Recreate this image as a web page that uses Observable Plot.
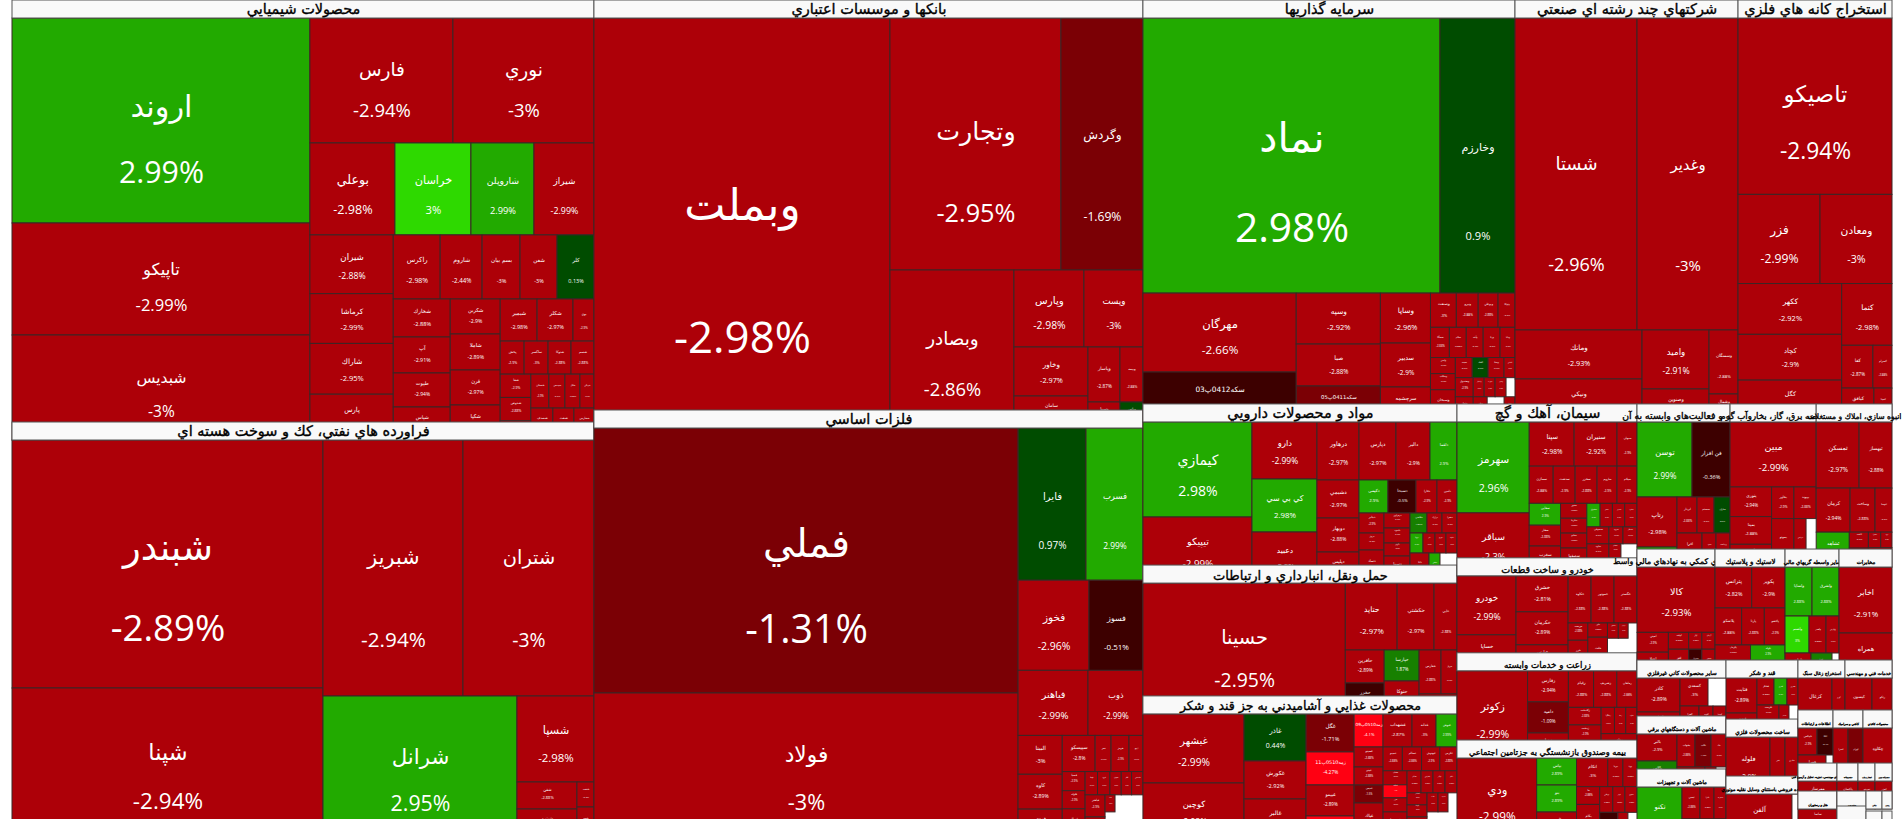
<!DOCTYPE html>
<html><head><meta charset="utf-8">
<style>html,body{margin:0;padding:0;background:#fff;overflow:hidden}</style>
<script src="https://cdn.jsdelivr.net/npm/d3@7"></script>
<script src="https://cdn.jsdelivr.net/npm/@observablehq/plot@0.6"></script>
</head><body><div id="chart"></div>
<script>
const chemNames=["اروند","تاپيكو","شبديس","فارس","نوري","بوعلي","خراسان","شاروپلن","شيراز","شيران","كرماشا","شاراك","پارس","راكرس","شاروم","بسم بيان","شفن","كلر","شخارك","آپ","طپوت","شپاس","شكربن","شاملا","قرن","شكپا","شيمير","شكلر","بوي","پخش","ساكسر","شتوكا","شسم","شفا","شدوص","شلعاب","شستان","شپديس","شگل","شرنگي","شصدف","شنفت","شفارس"];
const chemValues=[61090,33376,31290,17875,17625,7820,6992,5796,5520,4897,4150,4233,3818,3008,2688,2432,2368,2368,2166,2052,1938,1881,1750,1800,1750,1750,1554,1512,882,792,792,759,759,713,713,589,612,544,510,476,704,672,640];
const chemChanges=[2.99,-2.99,-3,-2.94,-3,-2.98,3,2.99,-2.99,-2.88,-2.99,-2.95,-2.9,-2.98,-2.44,-3,-3,0.13,-2.88,-2.91,-2.94,-2.9,-2.9,-2.89,-2.97,-2.9,-2.98,-2.97,-2.9,-2.9,-3,-2.88,-2.88,-2.9,-2.88,-2.9,-2.9,-2.9,-2.88,-2.9,-2.9,-2.9,-2.9];
const chemStrips=[3,2,4,4,5,4,4,3,4,3,4,1,1,1];

const oilNames=["شبندر","شپنا","شبريز","شتران","شرانل","شسپا","شفن","شپترو","شنفت","شجم"];
const oilValues=[77128,47272,35840,33536,27936,6622,1620,1860,425,561];
const oilChanges=[-2.89,-2.94,-2.94,-3,2.95,-2.98,-2.88,-2.9,-2.9,-2.9];
const oilStrips=[2,2,1,1,2,1,1];

const bankNames=["وبملت","وتجارت","وگردش","وبصادر","وپارس","وپست","وخاور","سامان","وپاسار","وبيمه","وسينا","وپاس"];
const bankValues=[121360,43092,20664,19592,5390,4543,3626,2368,1760,1265,832,598];
const bankChanges=[-2.98,-2.95,-1.69,-2.86,-2.98,-3,-2.97,-2.9,-2.87,-2.88,-2.9,0.9];
const bankStrips=[1,2,1,2,2,2,1,1];

const metalNames=["فملي","فولاد","فايرا","فسرب","فخوز","فسوز","فياهنر","ذوب","البينا","كاوه","فروي","سپيسكو","فجر","هرمز","ارفع","فسپا","فلوله","فنوال","فپنتا","فرود","فجهان","كگاز","فاسمين","فباهنر","فرآور","فاما","",""];
const metalValues=[112360,62328,10336,8664,6390,4860,4550,3575,1716,1540,1364,1188,576,648,504,437,414,713,288,288,264,240,264,440,460,170,476,1064];
const metalChanges=[-1.31,-3,0.97,2.99,-2.96,-0.51,-2.99,-2.99,-3,-2.89,-2.9,-2.8,-2.9,-2.9,-2.9,-2.9,-2.9,-2.9,-2.9,-2.9,-2.9,-2.9,-2.9,-2.9,-2.9,-2.9,null,null];
const metalStrips=[2,2,2,2,3,4,3,5,2,2,1];

const investNames=["نماد","وخارزم","مهرگان","سكه0412پ03","وسپه","صبا","سكه0411پ05","وساپا","سدبير","سرچشمه","وصنعت","ونيرو","وبوعلي","وتوكا","سمگا","سلام","وآيند","ورنا","ودانا","وامين","وسكاب","وسبحان","سپيد","الماد","وسنا","الماس","وصندوق","وثوق","واعتبار","سپرده","ومدير","","وملي","","وپويا"];
const investValues=[81675,20625,12087,7650,4284,3528,3024,2500,2200,1750,884,748,680,578,570,510,510,510,450,400,400,800,340,320,320,220,342,450,209,209,209,171,350,425,275];
const investChanges=[2.98,0.9,-2.66,-0.35,-2.92,-2.88,-1.5,-2.96,-2.9,-2.9,-3,-2.88,-2.88,-2.9,-2.88,-2.88,-2.9,-2.9,-2.9,-2.9,-2.9,-2.9,-2.9,0.9,-2.9,-2.9,-2.9,-2.9,-2.9,-2.9,-2.9,null,-2.9,null,-2.9];
const investStrips=[2,2,3,3,4,5,3,4,2,4,1,1,1];

const multiNames=["شستا","وغدير","ومانك","ونيكي","واميد","وصنوين","وسمنگان","وشمال"];
const multiValues=[38064,31512,6223,5461,3953,2211,1856,812];
const multiChanges=[-2.96,-3,-2.93,-2.9,-2.91,-2.88,-2.88,-2.9];
const multiStrips=[2,2,2,1,1];

const miningNames=["تاصيكو","فزر","ومعادن","ككهر","كچاد","كگل","كنما","كفا","كسرام","كبافق","كمينا"];
const miningValues=[27104,7298,6408,5253,4738,4326,3100,1333,817,1088,612];
const miningChanges=[-2.94,-2.99,-3,-2.92,-2.9,-2.9,-2.98,-2.87,-2.88,-2.9,-2.9];
const miningStrips=[1,2,3,1,2,1,1];

const pharmaNames=["كيمازي","تيپيكو","دارو","كي بي سي","دعبيد","درهاور","دپارس","دالبر","دلقما","دشيمي","دوبهار","ديليس","دكيمي","دسبحا","دفارا","دامين","دجابر","دروز","دتماد","دزهراوي","داسوه","دكوثر","دسينا","دقاضي","درازك","دشيرا","دپويا","دلر","دتوزيع","دماوند","دانا","دشافي",""];
const pharmaValues=[10355,7194,3705,3445,3315,2436,2146,1972,1566,1596,1428,1302,957,924,693,660,500,425,825,390,390,338,702,340,300,300,260,240,220,220,570,330,510];
const pharmaChanges=[2.98,-2.99,-2.99,2.98,-2.9,-2.97,-2.97,-2.9,2.9,-2.97,-2.88,-2.9,2.9,-0.5,-2.9,-2.9,-2.9,-2.9,-2.9,-2.9,-2.9,-2.9,-2.9,1.87,-2.9,-2.9,2.9,-2.9,-2.9,-2.9,-2.9,2.9,null];
const pharmaStrips=[2,3,4,3,4,3,4,3,4,1,2];

const transNames=["حسينا","حتايد","حكشتي","حاپي","حافرين","حخزر","حپارسا","حتوكا","حفارس","حريل","حآسا"];
const transValues=[26593,3484,2479,1541,1287,1209,1085,1155,968,704,760];
const transChanges=[-2.95,-2.97,-2.97,-2.88,-2.89,-0.4,1.87,-2.9,-2.88,-2.9,-2.9];
const transStrips=[1,3,2,2,2,1];

const foodNames=["غبشهر","كوچين","غاذر","غكورش","غالبر","غگل","زمه0510پ11","غبيمو","زمه0510پ12","زمه0510پ09","غشهداب","غدانه","غنوش","غصينو","غپينو","غديس","غپاك","غمينو","غسالم","غبهنوش","غگرجي","غشان","غمايه","غزر","غشصفا","غدام","غفارس","غپآذر","غالم","غشاذر","غويتا","غفار","غناب","غسهند","",""];
const foodValues=[6969,5757,2914,2356,2542,1824,1584,1488,1152,957,957,792,693,580,522,522,1073,456,456,432,408,336,312,336,672,308,264,264,264,240,240,460,209,190,171,840];
const foodChanges=[-2.99,-2.98,0.44,-2.92,-2.9,-1.71,-4.27,-2.89,-4.1,-4.1,-2.87,-3,2.99,-2.88,-2.88,-1.5,-2.9,-2.88,-2.88,-2.9,-2.88,-2.9,-4,-2.9,-2.9,-2.88,-2.88,-2.88,-2.88,-2.9,-2.9,-2.9,-2.9,-2.9,null,null];
const foodStrips=[2,3,4,4,4,4,4,4,3,3,1];

const cementNames=["سهرمز","سباقر","سپتا","سنيران","سبهان","سمازن","سدشت","سخزر","ساروم","سيلام","سقاين","سفار","سغرب","سخوز","سكرما","سفانو","سصفها","سشرق","سنير","سدور","سكرد","سصوفي","ساوه","سبجنو","سرود","سمتاز","سجام","",""];
const cementValues=[6552,4536,1980,1892,880,888,814,814,740,740,682,651,930,390,390,390,728,312,288,288,288,374,352,352,238,238,168,224,504];
const cementChanges=[2.96,-2.3,-2.98,-2.92,-2.9,-2.88,-2.9,-2.88,-2.9,-2.9,2.9,-2.88,-2.9,-2.88,-2.88,-2.88,-2.88,2.9,-2.9,-2.9,-2.9,-2.9,-2.9,-2.9,-2.9,-2.9,-2.9,null,null];
const cementStrips=[2,3,5,3,4,4,3,2,2,1];

const autoNames=["خودرو","خساپا","خشرق","خكرمان","خپارس","خكاوه","خموتور","خگستر","خريخت","خزر","خاور","خلنت","خمحور","خبهمن","",""];
const autoValues=[3481,2124,1872,1716,1352,1081,1081,1081,340,600,280,660,165,150,135,960];
const autoChanges=[-2.99,-2.9,-2.81,-2.89,-2.9,-2.88,-2.88,-2.88,-2.88,-2.9,-2.88,-2.9,-2.9,-2.9,null,null];
const autoStrips=[2,3,3,2,2,3,1];

const agriNames=["زكوثر","زفارس","داميه","زپسا","زقيام","زشريف","زماهان","زگلدشت","زدشت","زملارد","زشگزا","زبينا","ساوه","زدام"];
const agriValues=[6177,1271,1271,1025,925,851,740,576,608,480,351,297,297,875];
const agriChanges=[-2.99,-2.94,-1.09,-2.9,-2.88,-2.88,-2.88,-2.88,-2.9,-2.9,-2.9,-2.9,-2.9,-2.9];
const agriStrips=[1,3,3,3,3,1];

const insNames=["ودي","بپاس","بنو","البرز","اتكام","بپردا","بپويا","ما","بكام","بوعلي","كوثر","بسوى","دانا","سامان",""];
const insValues=[6560,1080,1080,1120,899,435,406,414,828,338,312,312,504,280,252];
const insChanges=[-2.99,2.89,2.89,-2.9,-3,-2.88,-2.88,-2.88,-2.9,-2.88,-2.88,-2.88,-0.4,-2.9,null];
const insStrips=[1,3,3,2,3,1,2];

const compNames=["توسن","فن افزار","رتاپ","رانفور","اپرداز","سيستم","مداران","افرا","سپ","پرداخت"];
const compValues=[4125,2850,2000,800,720,612,576,850,476,476];
const compChanges=[2.99,-0.36,-2.98,2.9,-2.88,-2.9,0.5,-2.9,-2.9,-2.9];
const compStrips=[2,2,3,1,2];

const utilNames=["مبين","بنوري","بمپنا","بكهنوج","بخاور","بپيوند","بموتو","بترانس",""];
const utilValues=[5590,1230,1148,943,704,704,1078,588,490];
const utilChanges=[-2.99,-2.94,-2.88,-2.9,-2.9,-2.88,-2.9,-2.88,null];
const utilStrips=[1,3,2,3];

const realNames=["ثمسكن","ثبهساز","كرمان","وساخت","ثنوسا","ثشاهد","ثاخت","ثتوسا","ثعمرا","ثرود","ثباغ"];
const realValues=[2838,2178,1496,1100,748,1155,304,361,192,176,456];
const realChanges=[-2.97,-2.88,-2.94,-2.88,-2.9,2.9,-2.9,-2.88,-2.9,-2.9,-2.9];
const realStrips=[2,3,1,2,2,1];

const auxNames=["كالا","اميني","اعتلا","اوفيد","افق","اپال","آرمان","سبزوار","تمحور"];
const auxValues=[5070,620,806,340,580,221,221,377,377];
const auxChanges=[-2.93,-2.9,-2.88,-2.88,-2.9,-2.88,-2.9,-0.5,-2.9];
const auxStrips=[1,2,2,2,2];

const rubberNames=["پترانس","پكوير","پلاسكو","پارتا","پاكشو","پكرمان","پدرخش","پلوله","پيزد"];
const rubberValues=[1520,1380,999,851,777,576,612,630,525];
const rubberChanges=[-2.82,-2.9,-2.88,-2.88,-2.9,-2.88,-2.9,2.9,-2.88];
const rubberStrips=[2,3,2,2];

const finNames=["ولساپا","ولشرق","ولصنم","ولغدر","ولپارس","ولملت","ولانا",""];
const finValues=[1323,1323,888,629,481,650,525,175];
const finChanges=[2.88,2.88,3,-2.88,-2.9,-2.9,1.87,null];
const finStrips=[2,3,1,1,1];

const telNames=["اخابر","همراه"];
const telValues=[3498,2385];
const telChanges=[-2.91,-2.9];
const telStrips=[1,1];

const minNames=["كاذر","كساوه","كسعدي","","كفرا","كلوند","كهمدا"];
const minValues=[1462,946,784,504,532,392,364];
const minChanges=[-2.89,-2.9,-3,null,-2.9,-2.88,-2.9];
const minStrips=[2,2,1,2];

const elecNames=["بالبر","بالاس","بشهاب","بكاب","بتك","بايكا","بنيرو",""];
const elecValues=[1080,1040,594,528,495,560,220,200];
const elecChanges=[-2.9,1.87,-2.88,-1.2,-2.9,-2.9,-2.9,null];
const elecStrips=[2,3,1,1,1];

const machNames=["تكنو","تپمپي","تايرا","تمحركه","تپكو"];
const machValues=[2385,576,448,384,924];
const machChanges=[2.99,-2.88,-2.88,-2.9,-2.9];
const machStrips=[1,3,1];

const sugarNames=["قثابت","قنقش","قشكر","قمرو","قشرين","قلرست","قچار","قاسم",""];
const sugarValues=[1085,744,459,351,297,352,352,320,288];
const sugarChanges=[-2.89,-2.9,-2.88,2.9,-2.9,-2.9,-2.88,-2.9,null];
const sugarStrips=[2,3,2,2];

const mprodNames=["فلوله","فنر","ساذري"];
const mprodValues=[2508,855,741];
const mprodChanges=[-2.9,-2.88,-2.9];
const mprodStrips=[1,2];

const retailNames=["آلفن",""];
const retailValues=[3036,276];
const retailChanges=[-2.9,null];
const retailStrips=[1,1];

const coalNames=["كزغال","كپرو"];const coalValues=[1700,650];const coalChanges=[-2.99,-2.9];const coalStrips=[2];
const techNames=["كيسون","رتكو"];const techValues=[1350,1000];const techChanges=[-2.89,-2.9];const techStrips=[2];
const itNames=["تاپيكس","اتكا","همرا",""];const itValues=[513,432,728,182];const itChanges=[-2.9,-0.4,-2.9,null];const itStrips=[2,1,1];
const ceramNames=["كسرا","كهرام"];const ceramValues=[795,795];const ceramChanges=[-2.9,-1.3];const ceramStrips=[2];
const paperNames=["چكاوه"];const paperValues=[1537];const paperChanges=[-2.97];const paperStrips=[1];
const t1Names=["ممرساز"];const t1Values=[1092];const t1Changes=[-2.9];
const t2Names=["ساسا","ساما"];const t2Values=[840,369];const t2Changes=[-2.9,-2.9];
const t3Names=["پاكسان"];const t4Names=["نمرينو"];const t5Names=["لخزر"];
const tChanges=[-2.9];

const sectorNames=["محصولات شيميايي","فراورده هاي نفتي، كك و سوخت هسته اي","بانكها و موسسات اعتباري","فلزات اساسي","سرمايه گذاريها","شركتهاي چند رشته اي صنعتي","استخراج كانه هاي فلزي","مواد و محصولات دارويي","حمل ونقل، انبارداري و ارتباطات","محصولات غذايي و آشاميدني به جز قند و شكر","سيمان، آهك و گچ","خودرو و ساخت قطعات","زراعت و خدمات وابسته","بيمه وصندوق بازنشستگي به جزتامين اجتماعي","رايانه و فعاليت‌هاي وابسته به آن","عرضه برق، گاز، بخاروآب گرم","انبوه سازي، املاك و مستغلات","فعاليتهاي كمكي به نهادهاي مالي واسط","لاستيك و پلاستيك","ساير واسطه گريهاي مالي","مخابرات","ساير محصولات كاني غيرفلزي","ماشين آلات و دستگاههاي برقي","ماشين آلات و تجهيزات","قند و شكر","ساخت محصولات فلزي","خرده فروشي باستثناي وسايل نقليه موتوري","استخراج زغال سنگ","خدمات فني و مهندسي","اطلاعات و ارتباطات","كاشي و سراميك","محصولات كاغذي","فعاليتهاي مهندسي، تجزيه، تحليل و آزمون فني","هتل و رستوران","منسوجات","انتشار و چاپ","محصولات چوبي","فعاليت هنري","تجارت عمده","دباغي","پيمانكاري","حفاري","ورزش"];
const sectorValues=[245600,232800,225100,226200,150300,90100,62200,50600,41100,39600,27700,17100,15700,14760,13500,12500,11000,8660,7770,5990,5880,4980,4720,4720,4250,4100,3310,2350,2350,1860,1590,1540,1092,1209,588,476,476,435,464,320,200,176,110];
const sectorStrips=[2,2,3,3,4,3,4,3,3,2,3,2,3,2,2,1,1];
const sectorLeaves=[
 [chemNames,chemValues,chemChanges,chemStrips],[oilNames,oilValues,oilChanges,oilStrips],
 [bankNames,bankValues,bankChanges,bankStrips],[metalNames,metalValues,metalChanges,metalStrips],
 [investNames,investValues,investChanges,investStrips],[multiNames,multiValues,multiChanges,multiStrips],
 [miningNames,miningValues,miningChanges,miningStrips],[pharmaNames,pharmaValues,pharmaChanges,pharmaStrips],
 [transNames,transValues,transChanges,transStrips],[foodNames,foodValues,foodChanges,foodStrips],
 [cementNames,cementValues,cementChanges,cementStrips],[autoNames,autoValues,autoChanges,autoStrips],
 [agriNames,agriValues,agriChanges,agriStrips],[insNames,insValues,insChanges,insStrips],
 [compNames,compValues,compChanges,compStrips],[utilNames,utilValues,utilChanges,utilStrips],
 [realNames,realValues,realChanges,realStrips],[auxNames,auxValues,auxChanges,auxStrips],
 [rubberNames,rubberValues,rubberChanges,rubberStrips],[finNames,finValues,finChanges,finStrips],
 [telNames,telValues,telChanges,telStrips],[minNames,minValues,minChanges,minStrips],
 [elecNames,elecValues,elecChanges,elecStrips],[machNames,machValues,machChanges,machStrips],
 [sugarNames,sugarValues,sugarChanges,sugarStrips],[mprodNames,mprodValues,mprodChanges,mprodStrips],
 [retailNames,retailValues,retailChanges,retailStrips],[coalNames,coalValues,coalChanges,coalStrips],
 [techNames,techValues,techChanges,techStrips],[itNames,itValues,itChanges,itStrips],
 [ceramNames,ceramValues,ceramChanges,ceramStrips],[paperNames,paperValues,paperChanges,paperStrips],
 [t1Names,t1Values,t1Changes,[1]],[t2Names,t2Values,t2Changes,[2]],
 [t3Names,[1],tChanges,[1]],[t4Names,[1],tChanges,[1]],[t5Names,[1],tChanges,[1]]
];
const changeBins=[-3,-2,-1,0,1,2,3];
const changeColors=["#ff0012","#ad0008","#7b0005","#3d0000","#004c00","#178000","#22aa00","#2ed900"];

const W=1904,H=819,LEFT=12,RIGHT=1892,BOTTOM=822,HEAD=18;

// strip treemap: each strip runs along the shorter side of what is left
function tile(values,strips,x0,y0,x1,y1){
  const k=(x1-x0)*(y1-y0)/d3.sum(values),out=[];let i=0;
  for(const n of strips){
    const part=values.slice(i,i+n),s=d3.sum(part)*k,w=x1-x0,h=y1-y0;
    if(w<h){const t=s/w;let x=x0;for(const v of part){const d=v*k/t;out.push({x0:x,x1:x+d,y0,y1:y0+t});x+=d}y0+=t}
    else{const t=s/h;let y=y0;for(const v of part){const d=v*k/t;out.push({x0,x1:x0+t,y0:y,y1:y+d});y+=d}x0+=t}
    i+=n;
  }
  return out;
}
const nameFont='"DejaVu Sans",sans-serif';
const pctFont='"Open Sans","DejaVu Sans",sans-serif';
const sectors=tile(sectorValues,sectorStrips,LEFT,0,RIGHT,BOTTOM);
const marks=[];
sectors.forEach((s,si)=>{
  const w=s.x1-s.x0,h=s.y1-s.y0;
  const [names,values,changes,strips]=sectorLeaves[si]||[[""],[1],[null],[1]];
  const cells=tile(values,strips,s.x0,s.y0+HEAD,s.x1,s.y1+HEAD).map((c,i)=>{
    const cw=c.x1-c.x0,ch=c.y1-c.y0,f=0.148*Math.min(cw,ch);
    const ny=c.y0+0.5*ch-0.28*f-5.5;
    return {...c,name:names[i]||"",change:changes[i],f,ny,py:ny+0.325*ch,cx:(c.x0+c.x1)/2,label:changes[i]==null?"":changes[i]+"%"};
  }).filter(c=>c.change!=null);
  const fh=Math.min(14.5,0.1*Math.min(w,h));
  const head=[{x0:s.x0,x1:s.x1,y0:s.y0,y1:s.y0+HEAD,cx:(s.x0+s.x1)/2,cy:s.y0+9+(15-fh)*0.4,name:sectorNames[si]||""}];
  marks.push(
    Plot.rect(cells,{x1:"x0",x2:"x1",y1:"y0",y2:"y1",fill:"change",stroke:"#3a2626",strokeWidth:1}),
    Plot.text(cells,{x:"cx",y:"ny",text:"name",fill:"white",fontSize:"f",fontFamily:nameFont}),
    Plot.text(cells,{x:"cx",y:"py",text:"label",fill:"white",fontSize:"f",fontFamily:pctFont}),
    Plot.rect(head,{x1:"x0",x2:"x1",y1:"y0",y2:"y1",fill:"#f9f9f9",stroke:"#555",strokeWidth:1}),
    Plot.text(head,{x:"cx",y:"cy",text:"name",fill:"black",stroke:"black",strokeWidth:0.35,fontSize:fh,fontFamily:nameFont})
  );
});
const chart=Plot.plot({
  width:W,height:H,margin:0,
  style:{overflow:"hidden",background:"white"},
  x:{domain:[0,W],range:[0,W],axis:null},
  y:{domain:[0,H],range:[0,H],axis:null},
  color:{type:"threshold",domain:changeBins,range:changeColors},
  marks
});
document.getElementById("chart").appendChild(chart);
</script></body></html>
